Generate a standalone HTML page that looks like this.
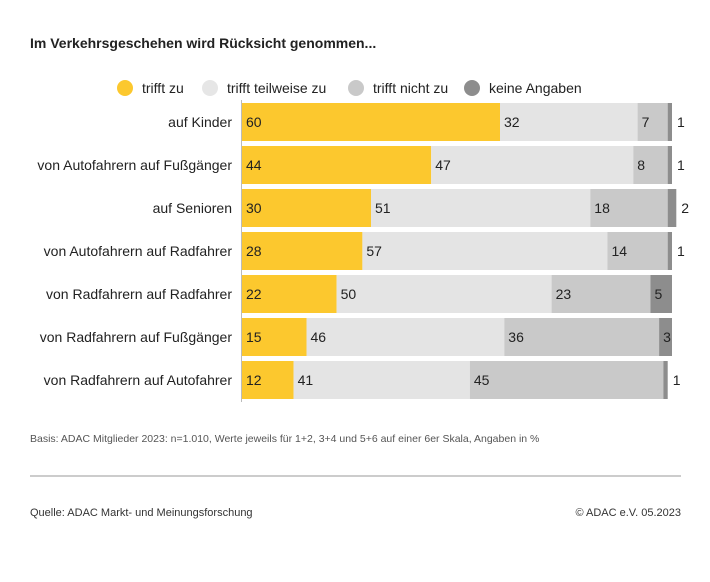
<!DOCTYPE html>
<html><head><meta charset="utf-8"><style>
body{margin:0;width:710px;height:577px;background:#fff;font-family:"Liberation Sans",sans-serif;overflow:hidden;}
</style></head><body>
<svg width="710" height="577" xmlns="http://www.w3.org/2000/svg" font-family="Liberation Sans, sans-serif">
<text x="30" y="48" font-size="14" font-weight="bold" fill="#222">Im Verkehrsgeschehen wird Rücksicht genommen...</text>
<g id="legend"></g>
<g id="bars"></g>
<line x1="241.5" y1="100" x2="241.5" y2="402" stroke="#bbb" stroke-width="1"/>
<text x="30" y="442" font-size="10.5" fill="#555">Basis: ADAC Mitglieder 2023: n=1.010, Werte jeweils für 1+2, 3+4 und 5+6 auf einer 6er Skala, Angaben in %</text>
<line x1="30" y1="476" x2="681" y2="476" stroke="#bbb" stroke-width="1.5"/>
<text x="30" y="516" font-size="11" fill="#333">Quelle: ADAC Markt- und Meinungsforschung</text>
<text x="681" y="516" font-size="11" fill="#333" text-anchor="end">© ADAC e.V. 05.2023</text>
</svg>
<script>
const categories=["auf Kinder","von Autofahrern auf Fußgänger","auf Senioren","von Autofahrern auf Radfahrer","von Radfahrern auf Radfahrer","von Radfahrern auf Fußgänger","von Radfahrern auf Autofahrer"];
const trifftZu=[60,44,30,28,22,15,12];
const teilweise=[32,47,51,57,50,46,41];
const nichtZu=[7,8,18,14,23,36,45];
const keineAngaben=[1,1,2,1,5,3,1];
const seriesNames=["trifft zu","trifft teilweise zu","trifft nicht zu","keine Angaben"];
const NS="http://www.w3.org/2000/svg";
const colors=["#fcc82e","#e4e4e4","#c9c9c9","#8d8d8d"];
const x0=242,scale=4.3,y0=103,step=43,bh=38;
const xs=v=>v*scale;
const bars=document.getElementById('bars');
function mk(tag,attrs,parent){const e=document.createElementNS(NS,tag);for(const k in attrs)e.setAttribute(k,attrs[k]);parent.appendChild(e);return e;}
const series=[trifftZu,teilweise,nichtZu,keineAngaben];
categories.forEach((c,i)=>{
  const y=y0+i*step;
  const t=mk('text',{x:232,y:y+bh/2+5,'font-size':14,'text-anchor':'end',fill:'#222'},bars);
  
  
  t.textContent=c;
  let acc=0;
  series.forEach((s,j)=>{
    const v=s[i];
    const r=mk('rect',{x:x0+xs(acc),y:y,width:xs(v),height:bh,fill:colors[j]},bars);
    
    
    const inside=v>2;
    const lx=inside?x0+xs(acc)+4:x0+xs(acc+v)+5;
    const lt=mk('text',{x:lx,y:y+bh/2+5,'font-size':14,fill:'#222'},bars);
    
    
    lt.textContent=v;
    acc+=v;
  });
});
const lg=document.getElementById('legend');
const lx=[125,210,356,472];
seriesNames.forEach((n,j)=>{
  const c=mk('circle',{cx:lx[j],cy:88,r:8,fill:colors[j]==="#e4e4e4"?"#e6e6e6":colors[j]},lg);
  
  
  const t=mk('text',{x:lx[j]+17,y:93,'font-size':14,fill:'#222'},lg);
  
  
  t.textContent=n;
});
</script>
</body></html>
